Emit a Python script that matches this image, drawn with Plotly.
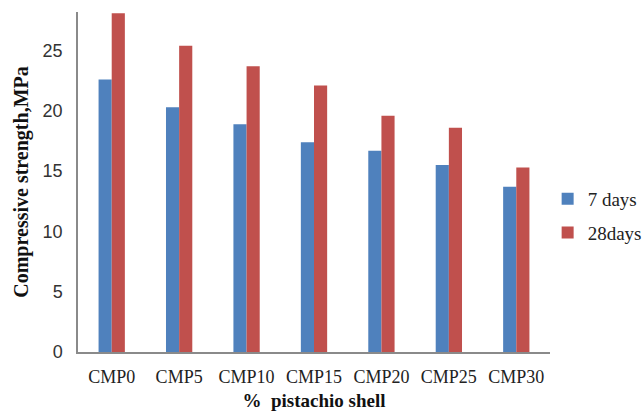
import plotly.graph_objects as go

categories = ["CMP0", "CMP5", "CMP10", "CMP15", "CMP20", "CMP25", "CMP30"]
days7 = [22.6, 20.3, 18.9, 17.4, 16.7, 15.5, 13.7]
days28 = [28.1, 25.4, 23.7, 22.1, 19.6, 18.6, 15.3]
series_names = ["7 days", "28days"]
y_ticks = [0, 5, 10, 15, 20, 25]

fig = go.Figure()
fig.add_trace(go.Bar(x=categories, y=days7, name=series_names[0],
                     marker=dict(color="#4F81BD", line=dict(width=0)), legendgroup="a"))
fig.add_trace(go.Bar(x=categories, y=days28, name=series_names[1],
                     marker=dict(color="#C0504D", line=dict(width=0)), legendgroup="b"))

serif = "'Liberation Serif', 'Times New Roman', serif"
fig.update_layout(
    width=643, height=411,
    margin=dict(l=78, r=93, t=12, b=59, autoexpand=False),
    paper_bgcolor="white", plot_bgcolor="white",
    barmode="group", bargap=0.61, bargroupgap=0,
    showlegend=True,
    legend=dict(x=0.995, y=0.40, xanchor="left", yanchor="middle",
                font=dict(family=serif, size=19, color="#222"),
                tracegroupgap=6, itemwidth=30, bgcolor="rgba(0,0,0,0)"),
    xaxis=dict(showline=True, linecolor="#8a8a8a", linewidth=1.5, automargin=False,
               showgrid=False, ticks="", ticklabelstandoff=8,
               tickfont=dict(family=serif, size=18, color="#222"),
               title=dict(text="<b>%  pistachio shell</b>", standoff=10,
                          font=dict(family=serif, size=19, color="#111"))),
    yaxis=dict(range=[0, 28.2], tickvals=y_ticks, showline=True, automargin=False,
               linecolor="#8a8a8a", linewidth=1.5, showgrid=False, zeroline=False,
               ticks="", ticklabelstandoff=10,
               tickfont=dict(family="'Liberation Sans', Arial, sans-serif", size=18, color="#333"),
               title=dict(text="<b>Compressive strength,MPa</b>", standoff=9,
                          font=dict(family=serif, size=20, color="#111"))),
)

fig.write_html("out.html", config={"displayModeBar": False},
               post_script="document.body.style.margin='0';document.body.style.padding='0';")
